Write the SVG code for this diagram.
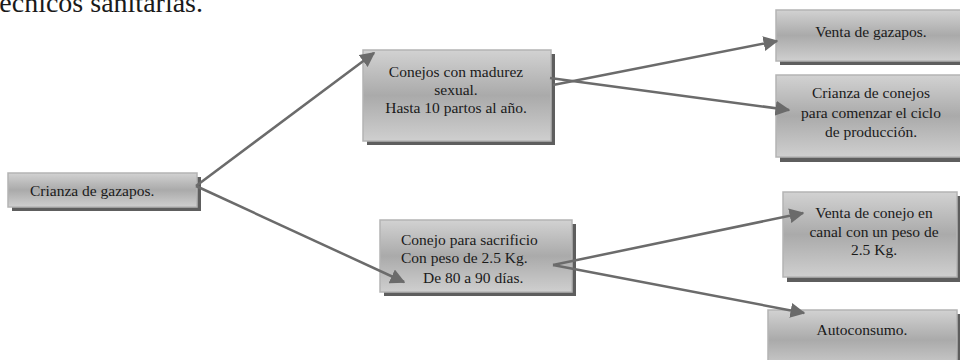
<svg xmlns="http://www.w3.org/2000/svg" width="960" height="360" viewBox="0 0 960 360">
<defs>
<linearGradient id="g" x1="0" y1="0" x2="0" y2="1">
<stop offset="0" stop-color="#d2d2d2"/>
<stop offset="0.5" stop-color="#aaaaaa"/>
<stop offset="1" stop-color="#cfcfcf"/>
</linearGradient>
<marker id="ah" viewBox="0 0 10 10" refX="9" refY="5" markerWidth="6" markerHeight="6" markerUnits="strokeWidth" orient="auto">
<path d="M0,0 L10,5 L0,10 z" fill="#6b6b6b"/>
</marker>
</defs>
<style>
.sh{fill:#5e5e5e}
.bx{fill:url(#g);stroke:#b4b4b4;stroke-width:1.5}
.t{font-family:"Liberation Serif","Times New Roman",serif;font-size:15.5px;fill:#1a1a1a}
.c{text-anchor:middle}
.ln{stroke:#6b6b6b;stroke-width:2.5;fill:none;marker-end:url(#ah)}
</style>
<text x="203" y="12" text-anchor="end" font-family="Liberation Serif, serif" font-size="28" fill="#1a1a1a">técnicos  sanitarias.</text>
<g id="n1">
<rect class="sh" x="12" y="177" width="189" height="34"/>
<rect class="bx" x="8" y="173" width="189" height="34"/>
<text class="t" x="30" y="195.5">Crianza de gazapos.</text>
</g>
<g id="n2">
<rect class="sh" x="367" y="54" width="188" height="91"/>
<rect class="bx" x="363" y="50" width="188" height="91"/>
<text class="t c" x="456" y="77">Conejos con madurez</text>
<text class="t c" x="456" y="95">sexual.</text>
<text class="t c" x="456" y="113">Hasta 10 partos al año.</text>
</g>
<g id="n3">
<rect class="sh" x="384" y="224" width="192" height="72"/>
<rect class="bx" x="380" y="220" width="192" height="72"/>
<text class="t" x="401" y="245">Conejo para sacrificio</text>
<text class="t" x="401" y="263">Con peso de 2.5 Kg.</text>
<text class="t" x="423" y="283">De 80 a 90 días.</text>
</g>
<g id="n4">
<rect class="sh" x="780" y="14" width="184" height="51"/>
<rect class="bx" x="776" y="10" width="186" height="51"/>
<text class="t c" x="871" y="37">Venta de gazapos.</text>
</g>
<g id="n5">
<rect class="sh" x="780" y="79" width="184" height="83"/>
<rect class="bx" x="776" y="75" width="186" height="82"/>
<text class="t c" x="871" y="98">Crianza de conejos</text>
<text class="t c" x="871" y="118">para comenzar el ciclo</text>
<text class="t c" x="871" y="137">de producción.</text>
</g>
<g id="n6">
<rect class="sh" x="787" y="196" width="176" height="86"/>
<rect class="bx" x="783" y="192" width="174" height="85"/>
<text class="t c" x="874" y="218">Venta de conejo en</text>
<text class="t c" x="874" y="237">canal con un peso de</text>
<text class="t c" x="874" y="255">2.5 Kg.</text>
</g>
<g id="n7">
<rect class="sh" x="772" y="314" width="189" height="60"/>
<rect class="bx" x="768" y="310" width="189" height="60"/>
<text class="t c" x="862" y="335">Autoconsumo.</text>
</g>
<g id="connectors">
<line class="ln" x1="196" y1="186" x2="374" y2="53"/>
<line class="ln" x1="196" y1="186" x2="404" y2="282"/>
<line class="ln" x1="553" y1="85" x2="777" y2="41"/>
<line class="ln" x1="550" y1="78" x2="789" y2="110"/>
<line class="ln" x1="553" y1="265" x2="803" y2="213"/>
<line class="ln" x1="553" y1="265" x2="804" y2="313"/>
</g>
</svg>
